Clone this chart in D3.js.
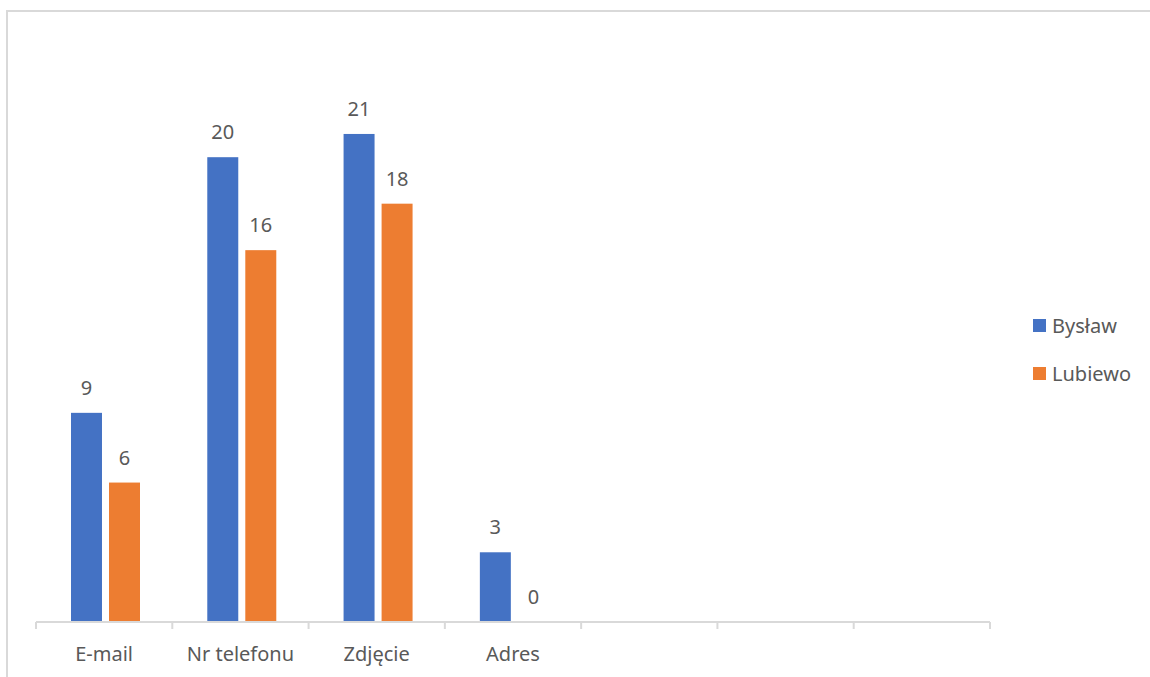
<!DOCTYPE html>
<html>
<head>
<meta charset="utf-8">
<script src="https://cdn.jsdelivr.net/npm/d3@7"></script>
<style>
  html, body { margin: 0; padding: 0; background: #ffffff; }
  svg { display: block; }
  text { font-family: "Noto Sans", "Open Sans", sans-serif; fill: #595959; }
</style>
</head>
<body>
<svg id="chart" width="1150" height="677"></svg>
<script>
// ---- data ----
const categories = ["E-mail", "Nr telefonu", "Zdjęcie", "Adres"];
const slotCount = 7; // axis has 7 category slots, last 3 empty
const seriesNames = ["Bysław", "Lubiewo"];
const byslawValues = [9, 20, 21, 3];
const lubiewoValues = [6, 16, 18, 0];
const seriesColors = ["#4472C4", "#ED7D31"];

const svg = d3.select("#chart");
const W = 1150, H = 677;

// chart border (partially visible)
svg.append("rect")
  .attr("x", 7).attr("y", 11)
  .attr("width", W + 20).attr("height", H + 20)
  .attr("fill", "none").attr("stroke", "#d9d9d9").attr("stroke-width", 2);

const plot = { left: 36, right: 990, top: 41, bottom: 622 };

const slots = d3.range(slotCount);
const x0 = d3.scaleBand().domain(slots).range([plot.left, plot.right]).padding(0);
const x1 = d3.scaleBand().domain(seriesNames)
  .range([35, 35 + 69]).paddingInner(0.185).paddingOuter(0);
const y = d3.scaleLinear().domain([0, 25]).range([plot.bottom, plot.top]);
const color = d3.scaleOrdinal().domain(seriesNames).range(seriesColors);

const values = { "Bysław": byslawValues, "Lubiewo": lubiewoValues };

const rows = categories.map((c, i) => ({
  cat: c, idx: i,
  items: seriesNames.map(s => ({ s, v: values[s][i] }))
}));

const g = svg.append("g");

const groups = g.selectAll("g.cat").data(rows).join("g")
  .attr("class", "cat")
  .attr("transform", d => `translate(${x0(d.idx)},0)`);

groups.selectAll("rect").data(d => d.items).join("rect")
  .attr("x", d => x1(d.s))
  .attr("width", x1.bandwidth())
  .attr("y", d => y(d.v))
  .attr("height", d => y(0) - y(d.v))
  .attr("fill", d => color(d.s));

groups.selectAll("text.lbl").data(d => d.items).join("text")
  .attr("class", "lbl")
  .attr("x", d => x1(d.s) + x1.bandwidth() / 2)
  .attr("y", d => y(d.v) - 18)
  .attr("text-anchor", "middle")
  .attr("font-size", 20)
  .text(d => d.v);

// x axis: line + boundary ticks
const axisG = svg.append("g");
axisG.append("line")
  .attr("x1", plot.left).attr("x2", plot.right)
  .attr("y1", y(0)).attr("y2", y(0))
  .attr("stroke", "#d9d9d9").attr("stroke-width", 2);
const bounds = slots.map(s => x0(s)).concat([x0(slotCount - 1) + x0.bandwidth()]);
axisG.selectAll("line.tick").data(bounds).join("line")
  .attr("class", "tick")
  .attr("x1", d => d).attr("x2", d => d)
  .attr("y1", y(0)).attr("y2", y(0) + 7)
  .attr("stroke", "#d9d9d9").attr("stroke-width", 2);

axisG.selectAll("text.cat").data(rows).join("text")
  .attr("class", "cat")
  .attr("x", d => x0(d.idx) + x0.bandwidth() / 2)
  .attr("y", 661)
  .attr("text-anchor", "middle")
  .attr("font-size", 20)
  .text(d => d.cat);

// legend
const legend = svg.append("g").attr("transform", "translate(1033,319)");
const li = legend.selectAll("g").data(seriesNames).join("g")
  .attr("transform", (d, i) => `translate(0,${i * 48})`);
li.append("rect").attr("width", 13).attr("height", 13).attr("fill", d => color(d));
li.append("text").attr("x", 19).attr("y", 14).attr("font-size", 20).text(d => d);
</script>
</body>
</html>
